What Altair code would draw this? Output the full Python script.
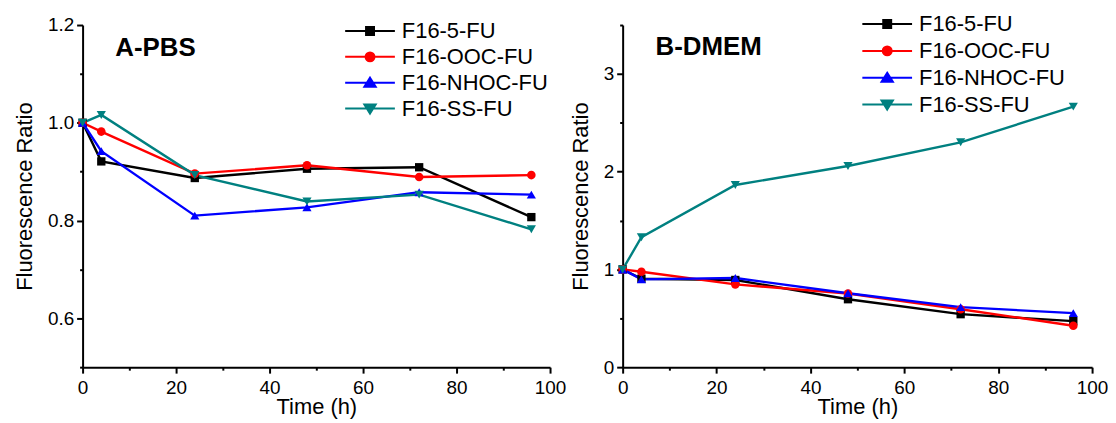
import altair as alt
import pandas as pd

# ---- data ----
time_h = [0, 4, 24, 48, 72, 96]
series_names = ["F16-5-FU", "F16-OOC-FU", "F16-NHOC-FU", "F16-SS-FU"]
series_colors = ["#000000", "#ff0000", "#0000ff", "#008080"]
series_shapes = ["square", "circle", "triangle-up", "triangle-down"]
series_sizes = [70, 75, 85, 85]

pbs_5fu = [1.0, 0.921, 0.887, 0.906, 0.909, 0.807]
pbs_ooc = [1.0, 0.982, 0.896, 0.913, 0.889, 0.893]
pbs_nhoc = [1.0, 0.942, 0.810, 0.827, 0.858, 0.853]
pbs_ss = [1.0, 1.016, 0.893, 0.839, 0.853, 0.782]

dmem_5fu = [1.0, 0.905, 0.892, 0.695, 0.542, 0.471]
dmem_ooc = [1.0, 0.976, 0.847, 0.753, 0.593, 0.424]
dmem_nhoc = [1.0, 0.898, 0.912, 0.756, 0.614, 0.553]
dmem_ss = [1.0, 1.329, 1.864, 2.058, 2.300, 2.665]

pbs_y_ticks = [0.5, 0.6, 0.7, 0.8, 0.9, 1.0, 1.1, 1.2]
dmem_y_ticks = [0.0, 0.5, 1.0, 1.5, 2.0, 2.5, 3.0, 3.5]
x_ticks = [0, 10, 20, 30, 40, 50, 60, 70, 80, 90, 100]

# panel labels, anchored in data space (time, ratio)
panel_labels = ["A-PBS", "B-DMEM"]
panel_label_time = [7.0, 7.0]
panel_label_value = [1.137, 3.19]


# legend symbols: a line segment with the marker in its middle
# (marker drawn as nested outlines so that a stroke alone fills it)
def _sq(h):
    return f"M{-h},{-h}H{h}V{h}H{-h}Z"


def _ci(r):
    return f"M{-r},0A{r},{r} 0 1,0 {r},0A{r},{r} 0 1,0 {-r},0Z"


def _tri(apex, base, half):
    return f"M0,{apex}L{half},{base}H{-half}Z"


LINE = "M-2.5,0H2.5"
legend_paths = [
    LINE + _sq(0.4) + _sq(0.23) + _sq(0.07),
    LINE + _ci(0.45) + _ci(0.28) + _ci(0.11),
    LINE + _tri(-0.5, 0.41, 0.57) + _tri(-0.26, 0.29, 0.34) + _tri(-0.05, 0.18, 0.14),
    LINE + _tri(0.5, -0.41, 0.57) + _tri(0.26, -0.29, 0.34) + _tri(0.05, -0.18, 0.14),
]

FONT = "Liberation Sans"


def long_df(cols):
    rows = []
    for name, vals in zip(series_names, cols):
        for t, v in zip(time_h, vals):
            rows.append({"time": t, "value": v, "series": name})
    return pd.DataFrame(rows)


pbs_df = long_df([pbs_5fu, pbs_ooc, pbs_nhoc, pbs_ss])
dmem_df = long_df([dmem_5fu, dmem_ooc, dmem_nhoc, dmem_ss])


def panel(df, idx, ydom, yvals, ylabel_expr, ymajor_test, leg_x, leg_y, row_pad, width):
    x = alt.X(
        "time:Q",
        scale=alt.Scale(domain=[0, 100], nice=False, zero=False),
        axis=alt.Axis(
            values=x_ticks,
            labelExpr="datum.value % 20 == 0 ? datum.label : ''",
            title="Time (h)",
            tickSize={"condition": {"test": "datum.value % 20 != 0", "value": 3}, "value": 6},
            labelPadding=5,
            titlePadding=0,
        ),
    )
    y = alt.Y(
        "value:Q",
        scale=alt.Scale(domain=ydom, nice=False, zero=False),
        axis=alt.Axis(
            values=yvals,
            labelExpr=ylabel_expr,
            title="Fluorescence Ratio",
            tickSize={"condition": {"test": ymajor_test, "value": 3}, "value": 6},
            labelPadding=3,
            titlePadding=11,
        ),
    )
    base = alt.Chart(df)
    layers = []
    for name, col in zip(series_names, series_colors):
        layers.append(
            base.transform_filter(alt.datum.series == name)
            .mark_line(strokeWidth=2.4, color=col)
            .encode(x=x, y=y)
        )
    for name, col, shp, sz in zip(series_names, series_colors, series_shapes, series_sizes):
        layers.append(
            base.transform_filter(alt.datum.series == name)
            .mark_point(filled=True, size=sz, opacity=1, shape=shp, color=col)
            .encode(x=x, y=y)
        )
    leg = dict(
        orient="none",
        legendX=leg_x,
        legendY=leg_y,
        title=None,
        labelFont=FONT,
        labelFontSize=22,
        labelColor="black",
        symbolSize=400,
        symbolStrokeWidth=2,
        symbolOpacity=1,
        rowPadding=row_pad,
        labelOffset=21,
        padding=0,
    )
    # invisible layer whose only job is to provide the legend
    legend_layer = base.mark_point(filled=False, opacity=0, strokeWidth=2, size=400).encode(
        x=x,
        y=y,
        color=alt.Color(
            "series:N",
            scale=alt.Scale(domain=series_names, range=series_colors),
            legend=alt.Legend(**leg),
        ),
        shape=alt.Shape(
            "series:N",
            scale=alt.Scale(domain=series_names, range=legend_paths),
            legend=alt.Legend(**leg),
        ),
    )
    layers.append(legend_layer)
    label = (
        alt.Chart(pd.DataFrame({"label": [panel_labels[idx]]}))
        .mark_text(
            align="left",
            baseline="alphabetic",
            font=FONT,
            fontSize=26,
            fontWeight="bold",
            color="black",
        )
        .encode(
            x=alt.X(datum=panel_label_time[idx], scale=alt.Scale(domain=[0, 100], nice=False, zero=False)),
            y=alt.Y(datum=panel_label_value[idx], scale=alt.Scale(domain=ydom, nice=False, zero=False)),
            text="label:N",
        )
    )
    layers.append(label)
    return alt.layer(*layers).properties(width=width, height=344)


left = panel(
    pbs_df,
    0,
    [0.5, 1.2],
    pbs_y_ticks,
    "round(datum.value * 10) % 2 == 0 ? format(datum.value, '.1f') : ''",
    "round(datum.value * 10) % 2 != 0",
    278,
    -5,
    4,
    470,
)
right = panel(
    dmem_df,
    1,
    [0, 3.5],
    dmem_y_ticks,
    "datum.value % 1 == 0 ? format(datum.value, 'd') : ''",
    "datum.value % 1 != 0",
    255,
    -12,
    5,
    472,
)

chart = (
    alt.hconcat(left, right, spacing=73, bounds="flush")
    .resolve_scale(color="independent", shape="independent")
    .resolve_legend(color="independent", shape="independent")
    .properties(padding={"left": 5, "top": 4, "right": 0, "bottom": 0})
    .configure_view(stroke=None)
    .configure_axis(
        grid=False,
        domainColor="black",
        domainWidth=2,
        tickColor="black",
        tickWidth=2,
        labelFont=FONT,
        labelFontSize=19,
        labelColor="black",
        labelFlush=False,
        labelOverlap=False,
        titleFont=FONT,
        titleFontSize=22,
        titleFontWeight="normal",
        titleColor="black",
    )
    .configure_legend(symbolOpacity=1)
)

chart.save("out.html", embed_options={"renderer": "svg", "actions": False})
